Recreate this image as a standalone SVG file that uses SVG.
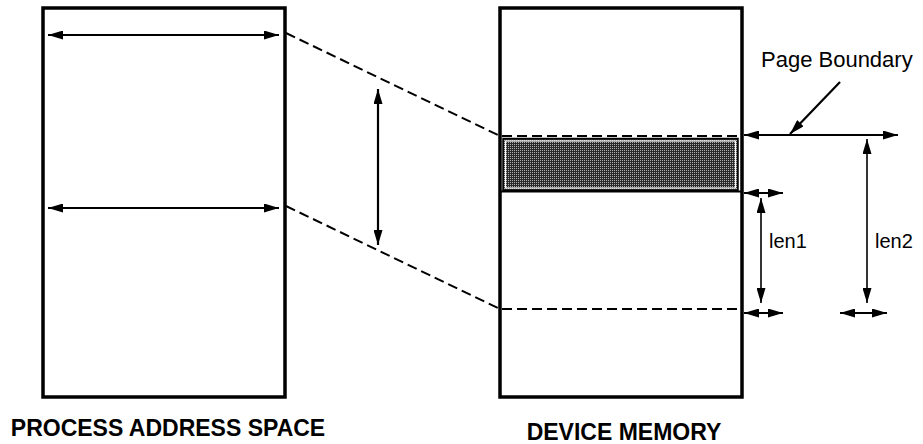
<svg xmlns="http://www.w3.org/2000/svg" width="923" height="444" viewBox="0 0 923 444">
<style>
.box{fill:#fff;stroke:#000;stroke-width:3.5}
.arr{stroke:#000;stroke-width:2.2;fill:none;marker-start:url(#ah);marker-end:url(#ah)}
.thin{stroke:#000;stroke-width:1.6;fill:none;marker-start:url(#ah);marker-end:url(#ah)}
.dash{stroke:#000;stroke-width:2;fill:none;stroke-dasharray:10 5}
.lbl{font-family:"Liberation Sans",Arial,sans-serif;font-size:20px;fill:#000}
.title{font-family:"Liberation Sans",Arial,sans-serif;font-size:23px;font-weight:bold;fill:#000}
</style>
<defs>
<marker id="ah" viewBox="0 0 15 9" refX="15" refY="4.5" markerWidth="15" markerHeight="9" markerUnits="userSpaceOnUse" orient="auto-start-reverse">
<path d="M0,0 L15,4.5 L0,9 Z" fill="#000"/>
</marker>
<marker id="ah1" viewBox="0 0 15 9" refX="15" refY="4.5" markerWidth="15" markerHeight="9" markerUnits="userSpaceOnUse" orient="auto">
<path d="M0,0 L15,4.5 L0,9 Z" fill="#000"/>
</marker>
<pattern id="stip" width="2" height="2" patternUnits="userSpaceOnUse">
<rect width="2" height="2" fill="#2a2a2a"/>
<rect width="1" height="1" fill="#b0b0b0"/>
</pattern>
</defs>

<g id="process-address-space">
<rect class="box" x="43" y="8" width="242" height="389"/>
<text class="title" x="168" y="436" text-anchor="middle">PROCESS ADDRESS SPACE</text>
</g>

<g id="device-memory">
<rect class="box" x="500" y="8" width="242" height="389"/>
<rect x="503" y="138.5" width="235" height="52" fill="url(#stip)" stroke="#000" stroke-width="1.5"/>
<rect x="505.5" y="141" width="230" height="47" fill="none" stroke="#fff" stroke-width="1.2"/>
<line x1="502" y1="136" x2="740" y2="136" class="dash" stroke-dasharray="6 3"/>
<line x1="500" y1="191.5" x2="742" y2="191.5" stroke="#000" stroke-width="2.2"/>
<line x1="502" y1="309" x2="740" y2="309" class="dash" stroke-dasharray="8 3"/>
<text class="title" x="624" y="440" text-anchor="middle">DEVICE MEMORY</text>
</g>

<g id="page-boundary-label">
<text class="lbl" x="761" y="67" style="font-size:22px">Page Boundary</text>
</g>
<g id="len1-label">
<text class="lbl" x="769" y="248">len1</text>
</g>
<g id="len2-label">
<text class="lbl" x="875" y="248">len2</text>
</g>

<g id="connectors">
<line class="arr" x1="48" y1="35" x2="279" y2="35"/>
<line class="arr" x1="48" y1="208" x2="279" y2="208"/>
<line class="dash" x1="286" y1="33" x2="500" y2="136"/>
<line class="dash" x1="286" y1="206" x2="500" y2="309"/>
<line class="arr" x1="378" y1="89" x2="378" y2="245"/>
<line class="arr" x1="744" y1="135" x2="898" y2="135"/>
<line stroke="#000" stroke-width="2.2" x1="840" y1="82" x2="790" y2="134" marker-end="url(#ah1)"/>
<line class="arr" x1="744" y1="193" x2="783" y2="193"/>
<line class="arr" x1="744" y1="313" x2="783" y2="313"/>
<line class="arr" x1="840" y1="313" x2="887" y2="313"/>
<line class="thin" x1="761" y1="198" x2="761" y2="303"/>
<line class="thin" x1="867" y1="139" x2="867" y2="303"/>
</g>
</svg>
